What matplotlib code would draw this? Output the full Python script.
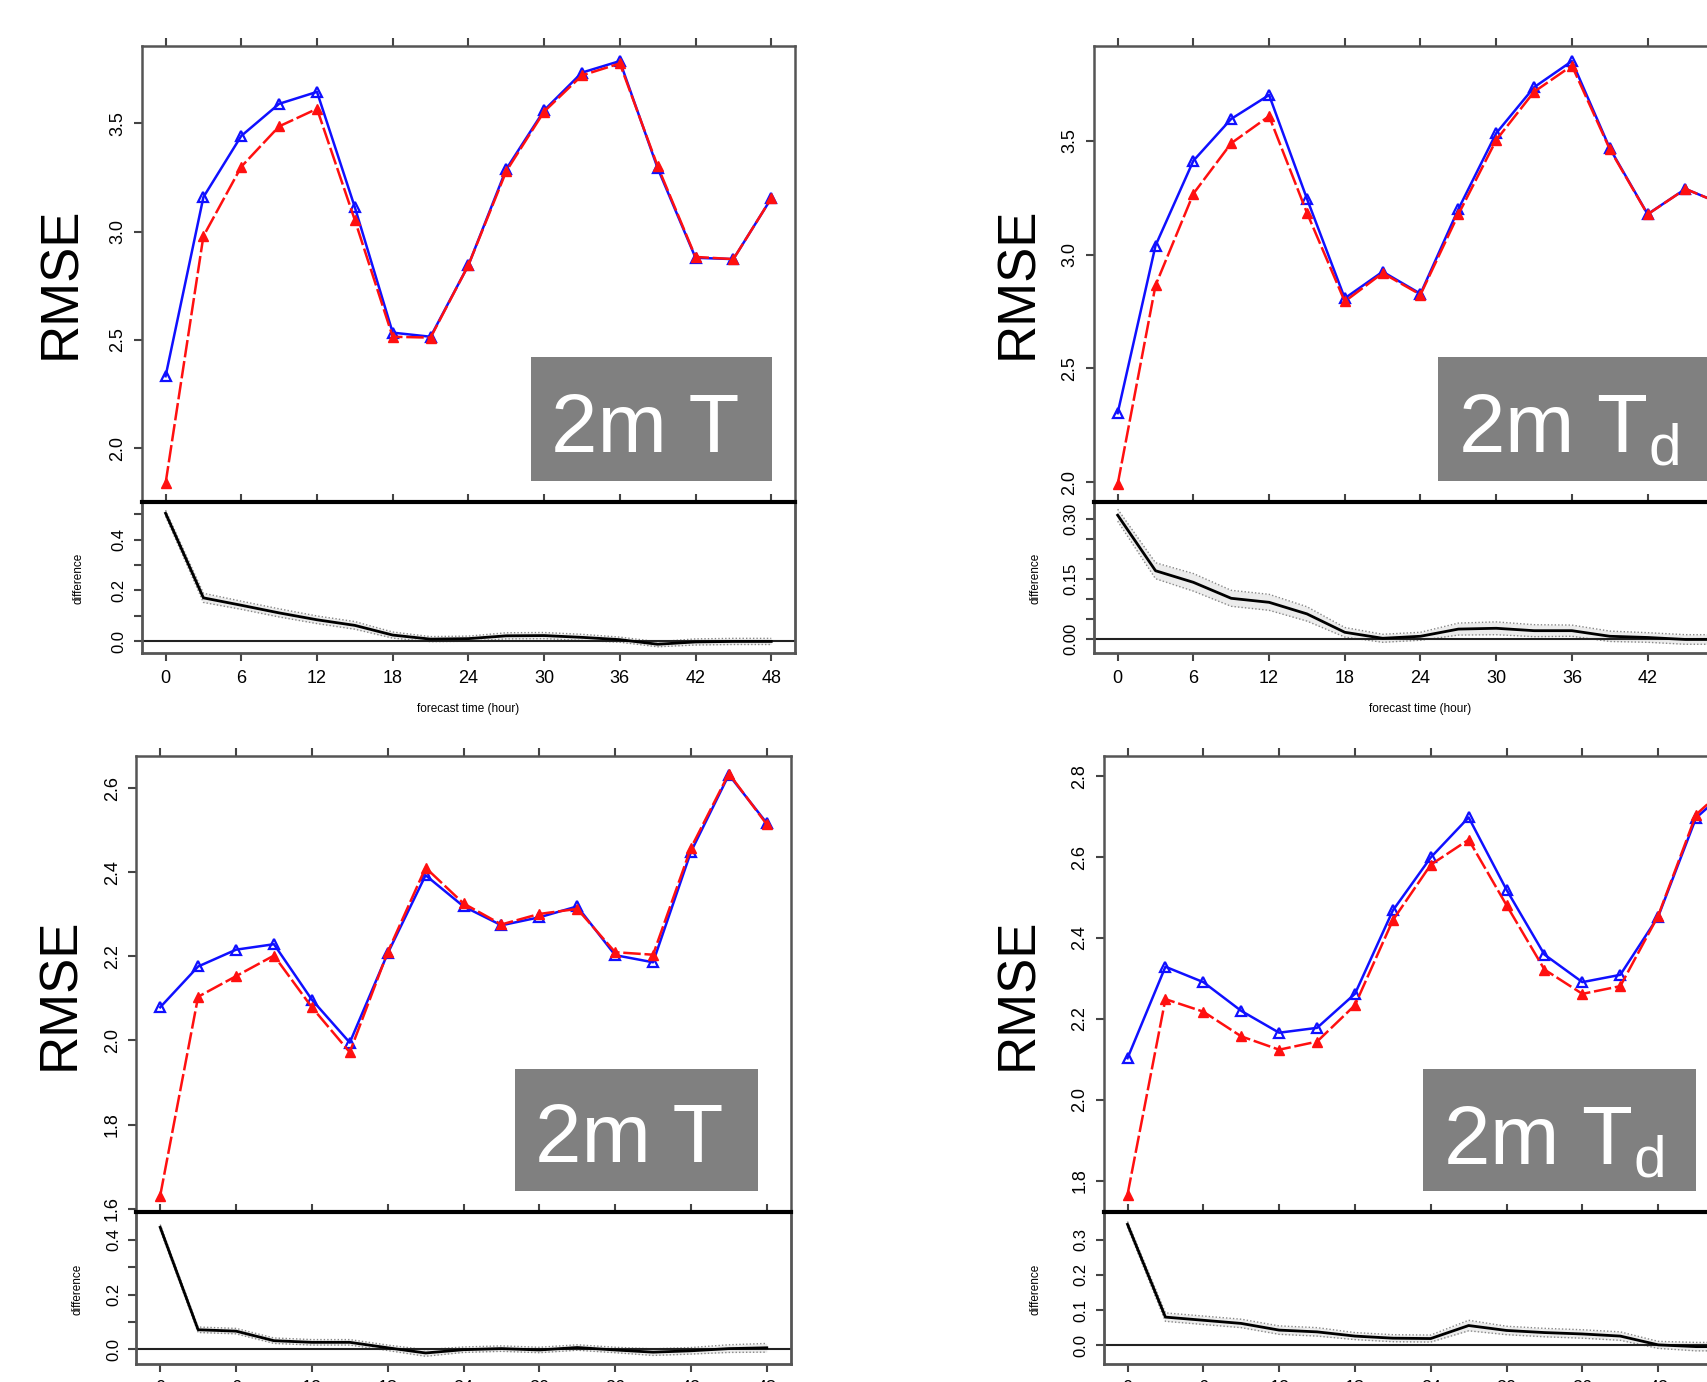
import matplotlib
matplotlib.use('Agg')
import matplotlib.pyplot as plt
from matplotlib.patches import Rectangle

plt.rcParams['font.family'] = ['Liberation Sans', 'DejaVu Sans']
plt.rcParams['mathtext.default'] = 'regular'

# ---------------- data ----------------
hours = [0, 3, 6, 9, 12, 15, 18, 21, 24, 27, 30, 33, 36, 39, 42, 45, 48]
xticks = [0, 6, 12, 18, 24, 30, 36, 42, 48]

# Panel A (top-left): 2m T
a_blue = [2.333, 3.159, 3.441, 3.589, 3.644, 3.112, 2.534, 2.515, 2.845, 3.288,
          3.559, 3.733, 3.786, 3.292, 2.879, 2.873, 3.153]
a_red = [1.839, 2.979, 3.299, 3.485, 3.566, 3.053, 2.515, 2.511, 2.845, 3.278,
         3.553, 3.720, 3.775, 3.301, 2.883, 2.873, 3.153]
a_diff = [0.503, 0.171, 0.142, 0.112, 0.085, 0.063, 0.025, 0.009, 0.011, 0.022,
          0.023, 0.016, 0.007, -0.011, -0.002, 0.000, 0.000]
a_band = [0.012, 0.018, 0.016, 0.016, 0.015, 0.015, 0.012, 0.010, 0.010, 0.012,
          0.012, 0.012, 0.010, 0.010, 0.012, 0.012, 0.012]

# Panel B (top-right): 2m Td
b_blue = [2.303, 3.040, 3.413, 3.597, 3.702, 3.246, 2.808, 2.925, 2.828, 3.200,
          3.534, 3.736, 3.851, 3.468, 3.178, 3.289, 3.220]
b_red = [1.990, 2.865, 3.268, 3.490, 3.609, 3.184, 2.794, 2.919, 2.824, 3.177,
         3.504, 3.716, 3.831, 3.464, 3.177, 3.289, 3.220]
b_diff = [0.309, 0.170, 0.141, 0.101, 0.091, 0.062, 0.016, 0.001, 0.006, 0.024,
          0.026, 0.020, 0.020, 0.006, 0.003, -0.002, -0.002]
b_band = [0.015, 0.020, 0.022, 0.020, 0.020, 0.018, 0.012, 0.010, 0.010, 0.015,
          0.016, 0.015, 0.014, 0.013, 0.012, 0.012, 0.012]

# Panel C (bottom-left): 2m T
c_blue = [2.079, 2.176, 2.216, 2.229, 2.097, 1.995, 2.207, 2.393, 2.319, 2.274,
          2.293, 2.319, 2.203, 2.186, 2.449, 2.632, 2.517]
c_red = [1.631, 2.104, 2.153, 2.202, 2.079, 1.972, 2.210, 2.411, 2.326, 2.276,
         2.301, 2.313, 2.210, 2.204, 2.458, 2.635, 2.514]
c_diff = [0.446, 0.071, 0.066, 0.031, 0.025, 0.025, 0.005, -0.014, -0.002, 0.002,
          -0.003, 0.006, -0.003, -0.011, -0.006, 0.002, 0.005]
c_band = [0.010, 0.010, 0.010, 0.010, 0.010, 0.010, 0.010, 0.012, 0.010, 0.010,
          0.010, 0.010, 0.010, 0.012, 0.012, 0.014, 0.016]

# Panel D (bottom-right): 2m Td
d_blue = [2.103, 2.329, 2.291, 2.220, 2.166, 2.178, 2.262, 2.468, 2.599, 2.698,
          2.519, 2.359, 2.291, 2.309, 2.453, 2.697, 2.780]
d_red = [1.766, 2.249, 2.218, 2.157, 2.124, 2.144, 2.234, 2.444, 2.581, 2.643,
         2.481, 2.322, 2.262, 2.281, 2.455, 2.705, 2.790]
d_diff = [0.344, 0.080, 0.071, 0.062, 0.043, 0.038, 0.026, 0.020, 0.019, 0.056,
          0.042, 0.036, 0.032, 0.026, 0.001, -0.004, -0.004]
d_band = [0.008, 0.012, 0.012, 0.012, 0.012, 0.012, 0.010, 0.010, 0.010, 0.015,
          0.012, 0.012, 0.012, 0.012, 0.010, 0.012, 0.012]

# ---------------- layout ----------------
W, H = 1708, 1382
fig = plt.figure(figsize=(W / 100, H / 100), dpi=100)


def rect(x0, y0, x1, y1):
    return [x0 / W, 1 - y1 / H, (x1 - x0) / W, (y1 - y0) / H]


FRAME = '#555555'
TICKC = '#444444'


def draw_panel(xl, xr, yt, yb, yd, blue, red, diff, band,
               ylim, yticks, ylabels, dylim, dticks, dlabels,
               subscript, box, txt, rmse_x):
    ax = fig.add_axes(rect(xl, yt, xr, yb))
    dx = fig.add_axes(rect(xl, yb, xr, yd))

    # main axes
    ax.plot(hours, blue, color='#1010ff', lw=1.8, marker='^', ms=7.5,
            mfc='none', mec='#1010ff', mew=1.6, zorder=3)
    ax.plot(hours, red, color='#ff1010', lw=1.8, marker='^', ms=7,
            mfc='#ff1010', mec='#ff1010', zorder=4, dashes=(7, 1.5))
    ax.set_xlim(-1.9, 49.9)
    ax.set_ylim(*ylim)
    ax.set_xticks(xticks)
    ax.set_yticks(yticks)
    ax.set_yticklabels(ylabels)
    ax.tick_params(axis='x', which='both', top=True, bottom=False,
                   labelbottom=False, labeltop=False, direction='out',
                   length=6, width=1.5, color=TICKC)
    ax.tick_params(axis='y', direction='out', length=6, width=1.5,
                   color=TICKC, labelsize=13, labelrotation=90, pad=5)
    for lb in ax.get_yticklabels():
        lb.set_va('center')
    for s in ['left', 'right', 'top']:
        ax.spines[s].set_color(FRAME)
        ax.spines[s].set_linewidth(1.8)
    ax.spines['bottom'].set_visible(False)

    ax.text(rmse_x, 0.48, 'RMSE', transform=ax.transAxes, rotation=90,
            fontsize=38, ha='center', va='center')

    bx0, by0, bx1, by1 = box
    ax.add_patch(Rectangle((bx0, by0), bx1 - bx0, by1 - by0,
                           transform=ax.transAxes, facecolor='#808080',
                           edgecolor='none', zorder=5))
    s = '2m T$_{d}$' if subscript else '2m T'
    ax.text(txt[0], txt[1], s, transform=ax.transAxes, color='white',
            fontsize=60, ha='left', va='baseline', zorder=6)

    # difference axes
    lo = [d - b for d, b in zip(diff, band)]
    hi = [d + b for d, b in zip(diff, band)]
    dx.fill_between(hours, lo, hi, color='#ececec', lw=0, zorder=1)
    dx.plot(hours, lo, color='#888888', lw=1, ls=(0, (1, 1.5)), zorder=2)
    dx.plot(hours, hi, color='#888888', lw=1, ls=(0, (1, 1.5)), zorder=2)
    dx.axhline(0, color='#222222', lw=1.5, zorder=2)
    dx.plot(hours, diff, color='black', lw=2, zorder=3)
    dx.set_xlim(-1.9, 49.9)
    dx.set_ylim(*dylim)
    dx.set_xticks(xticks)
    dx.set_xticklabels([str(v) for v in xticks])
    dx.set_yticks(dticks)
    dx.set_yticklabels(dlabels)
    dx.tick_params(axis='x', top=True, bottom=True, direction='out',
                   length=6, width=1.5, color=TICKC, labelsize=13, pad=6)
    dx.tick_params(axis='y', direction='out', length=6, width=1.5,
                   color=TICKC, labelsize=12, labelrotation=90, pad=5)
    for lb in dx.get_yticklabels():
        lb.set_va('center')
    for sp in ['left', 'right', 'bottom']:
        dx.spines[sp].set_color(FRAME)
        dx.spines[sp].set_linewidth(2)
    dx.spines['top'].set_color('black')
    dx.spines['top'].set_linewidth(3)
    dx.set_ylabel('difference', fontsize=8.5, labelpad=4)
    dx.yaxis.set_label_coords(rmse_x + 0.035, 0.49)
    dx.set_xlabel('forecast time (hour)', fontsize=8.5, labelpad=12)
    return ax, dx


def lab(vals, fmt, show):
    return [(fmt % v) if v in show else '' for v in vals]


# Panel A
draw_panel(141.6, 795.2, 45.9, 501.8, 652.9, a_blue, a_red, a_diff, a_band,
           (1.754, 3.856), [2.0, 2.5, 3.0, 3.5], ['2.0', '2.5', '3.0', '3.5'],
           (-0.045, 0.548), [0.0, 0.1, 0.2, 0.3, 0.4, 0.5],
           ['0.0', '', '0.2', '', '0.4', ''],
           False, (0.596, 0.046, 0.9645, 0.318), (0.626, 0.109), -0.123)

# Panel B
draw_panel(1093.7, 1747.3, 45.9, 501.8, 652.9, b_blue, b_red, b_diff, b_band,
           (1.913, 3.918), [2.0, 2.5, 3.0, 3.5], ['2.0', '2.5', '3.0', '3.5'],
           (-0.0356, 0.3425), [0.0, 0.05, 0.10, 0.15, 0.20, 0.25, 0.30],
           ['0.00', '', '', '0.15', '', '', '0.30'],
           True, (0.527, 0.046, 0.943, 0.318), (0.557, 0.109), -0.115)

# Panel C
draw_panel(136.2, 790.8, 756.3, 1212, 1363.5, c_blue, c_red, c_diff, c_band,
           (1.592, 2.676), [1.6, 1.8, 2.0, 2.2, 2.4, 2.6],
           ['1.6', '1.8', '2.0', '2.2', '2.4', '2.6'],
           (-0.0525, 0.502), [0.0, 0.1, 0.2, 0.3, 0.4],
           ['0.0', '', '0.2', '', '0.4'],
           False, (0.579, 0.0454, 0.950, 0.313), (0.609, 0.110), -0.116)

# Panel D
draw_panel(1103.5, 1758.0, 756.3, 1212, 1363.5, d_blue, d_red, d_diff, d_band,
           (1.723, 2.849), [1.8, 2.0, 2.2, 2.4, 2.6, 2.8],
           ['1.8', '2.0', '2.2', '2.4', '2.6', '2.8'],
           (-0.052, 0.379), [0.0, 0.1, 0.2, 0.3],
           ['0.0', '0.1', '0.2', '0.3'],
           True, (0.4885, 0.0454, 0.905, 0.313), (0.519, 0.105), -0.13)

fig.savefig('out.png', dpi=100)
